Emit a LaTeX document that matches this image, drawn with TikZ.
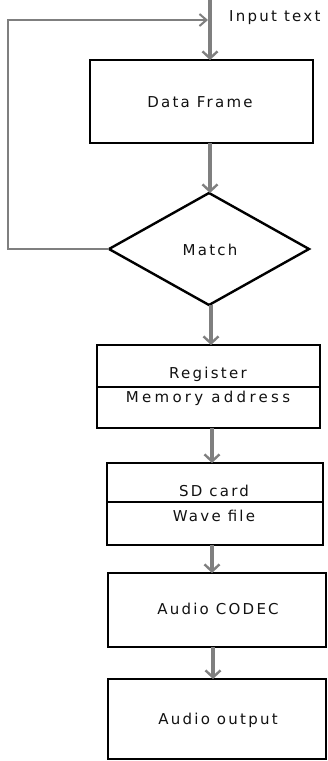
\documentclass[tikz,border=0pt]{standalone}
\usepackage{fontspec}
\setmainfont{DejaVu Sans}[LetterSpace=15]
\usetikzlibrary{shapes.geometric,arrows.meta}
\definecolor{arrowgray}{HTML}{7F7F7F}
\definecolor{textgray}{HTML}{111111}
\tikzset{
  box/.style={draw=black,line width=2.4pt,rectangle,inner sep=0pt,outer sep=0pt},
  lbl/.style={inner sep=0pt,text=textgray,font=\fontsize{15}{17}\selectfont},
  flow/.style={draw=arrowgray,line width=3.2pt,-{Straight Barb[length=7pt,width=15pt,line width=2.4pt]}},
  loop/.style={draw=arrowgray,line width=2.2pt},
}
\begin{document}
\begin{tikzpicture}[x=1pt,y=-1pt]
\useasboundingbox (0,0) rectangle (328,761);
% boxes
\node[box,minimum width=223pt,minimum height=83pt] (df) at (201.5,101.5) {};
\node[lbl] (dft) at (200,102) {Data Frame};
\node[box,diamond,minimum width=200pt,minimum height=112pt] (match) at (209,249) {};
\node[lbl] (mt) at (210,250) {Match};
\node[box,minimum width=223pt,minimum height=83pt] (reg) at (208.5,386.5) {};
\draw[line width=1.8pt] (reg.west |- 0,387) coordinate (rl) -- (reg.east |- 0,387) coordinate (rr);
\node[lbl] (regt) at (208,374) {Register};
\node[lbl,font=\fontsize{15}{17}\selectfont\addfontfeatures{LetterSpace=22}] (memt) at (208,398) {Memory address};
\node[box,minimum width=216pt,minimum height=82pt] (sd) at (215,504) {};
\draw[line width=1.8pt] (sd.west |- 0,502) coordinate (sl) -- (sd.east |- 0,502) coordinate (sr);
\node[lbl] (sdt) at (214,491) {SD card};
\node[lbl] (wft) at (214,516) {Wave file};
\node[box,minimum width=218pt,minimum height=74pt] (codec) at (217,610) {};
\node[lbl] (codect) at (218,609) {Audio CODEC};
\node[box,minimum width=218pt,minimum height=80pt] (out) at (217,719) {};
\node[lbl] (outt) at (218,720) {Audio output};
% input
\coordinate (in) at (210,0);
\node[lbl,anchor=west] (inl) at (229,18) {Input text};
\draw[flow] (in) -- (in |- df.north);
% flow arrows
\draw[flow] (df.south -| 210,0) -- (match.north -| 210,0);
\draw[flow] (match.south -| 211,0) -- (reg.north -| 211,0);
\draw[flow] (reg.south -| 212,0) -- (sd.north -| 212,0);
\draw[flow] (sd.south -| 212,0) -- (codec.north -| 212,0);
\draw[flow] (codec.south -| 213,0) -- (out.north -| 213,0);
% feedback loop
\coordinate (lb) at (8,249);
\coordinate (lt) at (8,20);
\coordinate (le) at (208,20);
\draw[loop] (match.west) -- (lb) -- (lt) -- ([xshift=-1pt]le);
\draw[draw=arrowgray,line width=1.8pt,-{Straight Barb[length=7pt,width=12pt,line width=2pt]}] (lt) -- (le);
\end{tikzpicture}
\end{document}
